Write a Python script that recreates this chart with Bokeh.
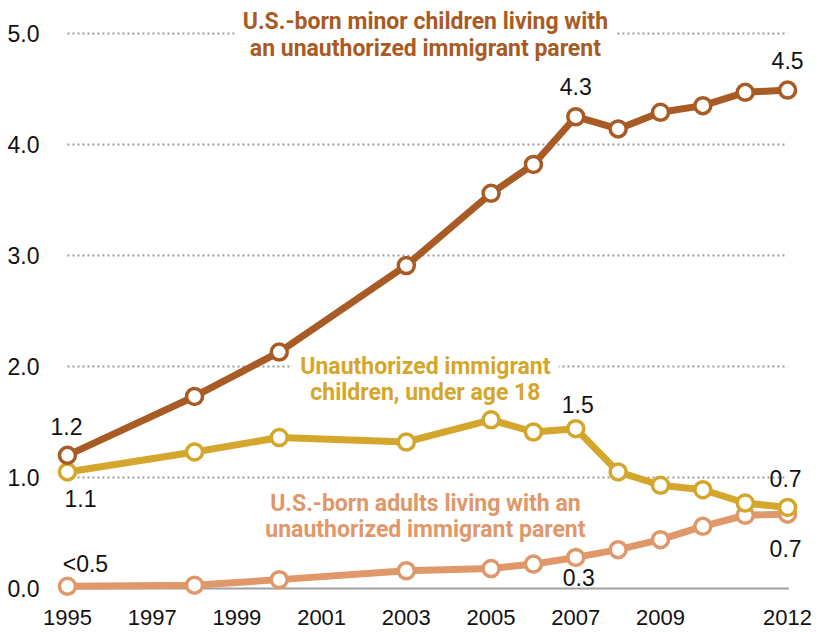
from bokeh.plotting import figure
from bokeh.models import ColumnDataSource, FixedTicker, Range1d
from bokeh.core.properties import value
from bokeh.embed import file_html
from bokeh.resources import INLINE

years = [1995, 1998, 2000, 2003, 2005, 2006, 2007, 2008, 2009, 2010, 2011, 2012]
us_born_minors = [1.20, 1.73, 2.13, 2.91, 3.56, 3.82, 4.25, 4.14, 4.29, 4.35, 4.47, 4.49]
unauth_children = [1.05, 1.23, 1.36, 1.32, 1.52, 1.41, 1.44, 1.05, 0.93, 0.89, 0.77, 0.73]
us_born_adults = [0.02, 0.03, 0.08, 0.16, 0.18, 0.22, 0.28, 0.35, 0.44, 0.56, 0.66, 0.67]

x_ticks = [1995, 1997, 1999, 2001, 2003, 2005, 2007, 2009, 2012]
y_ticks = [0, 1, 2, 3, 4, 5]
y_tick_labels = ["0.0", "1.0", "2.0", "3.0", "4.0", "5.0"]

series_names = [
    ["U.S.-born minor children living with", "an unauthorized immigrant parent"],
    ["Unauthorized immigrant", "children, under age 18"],
    ["U.S.-born adults living with an", "unauthorized immigrant parent"],
]
colors = ["#A85B24", "#D4A72C", "#E0986A"]

# value annotations: (series index, year index, text)
callouts = [
    (0, 0, "1.2"), (1, 0, "1.1"), (2, 0, "<0.5"),
    (0, 6, "4.3"), (0, 11, "4.5"),
    (1, 6, "1.5"), (1, 11, "0.7"),
    (2, 6, "0.3"), (2, 11, "0.7"),
]
# pixel offsets for the callouts
callout_offsets = [(-1, -29), (13, 27), (18, -22), (0, -30), (0, -30),
                   (2, -24), (-2, -29), (3, 20), (-2, 34)]

TXT = "'Liberation Sans', Arial, sans-serif"
BOLD = "Roboto, sans-serif"

p = figure(width=820, height=631, output_backend="svg", toolbar_location=None,
           x_range=Range1d(1994.6, 2012.47), y_range=Range1d(-0.099, 5.216),
           min_border_left=50, min_border_right=13, min_border_top=9, min_border_bottom=32)
p.outline_line_color = None
p.grid.visible = False

# grid lines (dotted) and baseline
gx0 = [years[0]] * (len(y_ticks) - 1)
gx1 = [years[-1]] * (len(y_ticks) - 1)
p.segment(x0=gx0, x1=gx1, y0=y_ticks[1:], y1=y_ticks[1:], line_color="#9a9a9a",
          line_width=2, line_dash="2 3")
p.segment(x0=[years[0] - 0.05], x1=[years[-1] + 0.03], y0=[0], y1=[0],
          line_color="#a0a0a0", line_width=2)

# series labels
label_x = 2003.45
label_ys = [(5.108, 4.865), (2.0, 1.766), (0.766, 0.532)]
for names, (ya, yb), c in zip(series_names, label_ys, colors):
    p.text(x=[label_x], y=[ya], text=[names[0]], text_color=c, text_font=value(BOLD),
           text_font_size="23px", text_font_style="bold", text_align="center",
           text_baseline="middle", background_fill_color="white", padding=8)
    p.text(x=[label_x], y=[yb], text=[names[1]], text_color=c, text_font=value(BOLD),
           text_font_size="23px", text_font_style="bold", text_align="center",
           text_baseline="middle")

all_series = [us_born_minors, unauth_children, us_born_adults]
for vals, c in zip(all_series[::-1], colors[::-1]):
    src = ColumnDataSource(dict(x=years, y=vals))
    p.line("x", "y", source=src, line_color=c, line_width=7, line_join="round")
    p.scatter("x", "y", source=src, size=16, fill_color="white", line_color=c, line_width=3.5)

for (si, yi, t), (dx, dy) in zip(callouts, callout_offsets):
    p.text(x=[years[yi]], y=[all_series[si][yi]], text=[t], x_offset=dx, y_offset=dy,
           text_font=value(TXT), text_font_size="23px", text_color="#111111",
           text_align="center", text_baseline="middle")

p.xaxis.ticker = FixedTicker(ticks=x_ticks)
p.yaxis.ticker = FixedTicker(ticks=y_ticks)
p.yaxis.major_label_overrides = {t: l for t, l in zip(y_ticks, y_tick_labels)}
for ax in (p.xaxis, p.yaxis):
    ax.axis_line_color = None
    ax.major_tick_line_color = None
    ax.minor_tick_line_color = None
    ax.major_label_text_font = TXT
    ax.major_label_text_font_size = "23px"
    ax.major_label_text_color = "#111111"
p.xaxis.major_label_text_font_size = "22px"
p.xaxis.major_label_standoff = 4
p.yaxis.major_label_standoff = 5

open("out.html", "w").write(file_html(p, INLINE))
